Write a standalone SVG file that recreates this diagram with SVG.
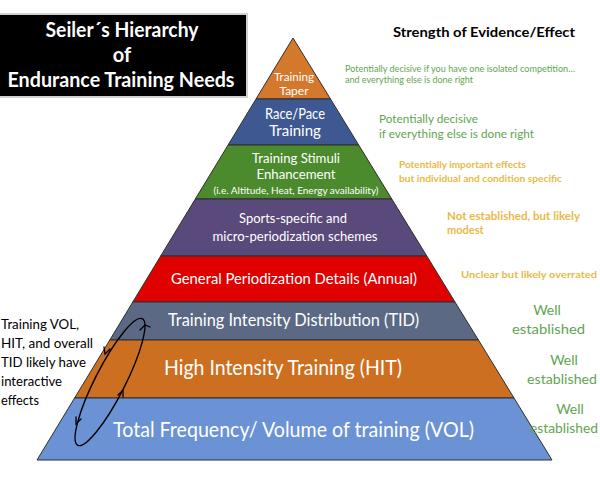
<svg xmlns="http://www.w3.org/2000/svg" width="600" height="480" viewBox="0 0 600 480">
<style>
.lay{stroke:#2e2e2e;stroke-width:1;stroke-linejoin:round}
.wt{fill:#ffffff;font-family:Lato,"Open Sans","Liberation Sans",sans-serif;text-anchor:middle}
.gr{fill:#62a552;font-family:Lato,"Open Sans","Liberation Sans",sans-serif}
.yl{fill:#e9b948;font-family:Lato,"Open Sans","Liberation Sans",sans-serif;font-weight:bold}
.bk{fill:#000000;font-family:Lato,"Open Sans","Liberation Sans",sans-serif}
.arr{fill:none;stroke:#000;stroke-width:1.3;stroke-linecap:round}
</style>
<rect x="0" y="0" width="600" height="480" fill="#ffffff"/>

<g id="title">
<rect x="-2" y="14" width="249" height="83" fill="#000" stroke="#d0d0d0" stroke-width="2"/>
<text class="wt" x="122" y="37" font-size="20" font-weight="bold" textLength="153" lengthAdjust="spacingAndGlyphs">Seiler´s Hierarchy</text>
<text class="wt" x="122" y="62" font-size="20" font-weight="bold">of</text>
<text class="wt" x="121" y="87" font-size="20" font-weight="bold" textLength="227" lengthAdjust="spacingAndGlyphs">Endurance Training Needs</text>
</g>

<g id="header">
<text class="bk" x="393" y="37" font-size="14" font-weight="bold" textLength="182" lengthAdjust="spacingAndGlyphs">Strength of Evidence/Effect</text>
</g>

<g id="taper">
<polygon class="lay" points="293,38 330.5,99 256,99" fill="#d4782c"/>
<text class="wt" x="294" y="81" font-size="12" textLength="40" lengthAdjust="spacingAndGlyphs">Training</text>
<text class="wt" x="294" y="95" font-size="12">Taper</text>
</g>

<g id="race">
<polygon class="lay" points="256,99 330.5,99 358.7,145 228.1,145" fill="#3e5992"/>
<text class="wt" x="295" y="119" font-size="15" textLength="60" lengthAdjust="spacingAndGlyphs">Race/Pace</text>
<text class="wt" x="295" y="136" font-size="15">Training</text>
</g>

<g id="stimuli">
<polygon class="lay" points="228.1,145 358.7,145 391.8,199 195.3,199" fill="#4b8a2d"/>
<text class="wt" x="296" y="163" font-size="14" textLength="88" lengthAdjust="spacingAndGlyphs">Training Stimuli</text>
<text class="wt" x="296" y="179" font-size="14" textLength="79" lengthAdjust="spacingAndGlyphs">Enhancement</text>
<text class="wt" x="296" y="194" font-size="10" textLength="165" lengthAdjust="spacingAndGlyphs">(i.e. Altitude, Heat, Energy availability)</text>
</g>

<g id="sports">
<polygon class="lay" points="195.3,199 391.8,199 426.8,256 160.7,256" fill="#5a4a7b"/>
<text class="wt" x="293" y="223" font-size="14" textLength="108" lengthAdjust="spacingAndGlyphs">Sports-specific and</text>
<text class="wt" x="295" y="241" font-size="14" textLength="165" lengthAdjust="spacingAndGlyphs">micro-periodization schemes</text>
</g>

<g id="general">
<polygon class="lay" points="160.7,256 426.8,256 455,302 132.8,302" fill="#df0000"/>
<text class="wt" x="294" y="284" font-size="16" textLength="246" lengthAdjust="spacingAndGlyphs">General Periodization Details (Annual)</text>
</g>

<g id="tid">
<polygon class="lay" points="132.8,302 455,302 478.4,340 109.8,340" fill="#5b6985"/>
<text class="wt" x="293.5" y="326" font-size="17" textLength="251" lengthAdjust="spacingAndGlyphs">Training Intensity Distribution (TID)</text>
</g>

<g id="hit">
<polygon class="lay" points="109.8,340 478.4,340 514,398 74.6,398" fill="#cd6f20"/>
<text class="wt" x="283" y="375" font-size="21" textLength="238" lengthAdjust="spacingAndGlyphs">High Intensity Training (HIT)</text>
</g>

<g id="vol">
<polygon class="lay" points="74.6,398 514,398 552,460 37,460" fill="#6a92d4"/>
<text class="wt" x="293.5" y="437" font-size="21" textLength="361" lengthAdjust="spacingAndGlyphs">Total Frequency/ Volume of training (VOL)</text>
</g>

<g id="evidence">
<text class="gr" x="345" y="72" font-size="9" textLength="230" lengthAdjust="spacingAndGlyphs">Potentially decisive if you have one isolated competition…</text>
<text class="gr" x="345" y="83" font-size="9" textLength="128" lengthAdjust="spacingAndGlyphs">and everything else is done right</text>
<text class="gr" x="379" y="123" font-size="12" textLength="99" lengthAdjust="spacingAndGlyphs">Potentially decisive</text>
<text class="gr" x="379" y="138" font-size="12" textLength="155" lengthAdjust="spacingAndGlyphs"> if everything else is done right</text>
<text class="yl" x="399" y="168" font-size="9" textLength="127" lengthAdjust="spacingAndGlyphs">Potentially important effects</text>
<text class="yl" x="399" y="182" font-size="9" textLength="163" lengthAdjust="spacingAndGlyphs"> but individual and condition specific</text>
<text class="yl" x="447" y="220" font-size="11" textLength="133" lengthAdjust="spacingAndGlyphs">Not established, but likely</text>
<text class="yl" x="447" y="234" font-size="11">modest</text>
<text class="yl" x="461" y="278" font-size="10" textLength="136" lengthAdjust="spacingAndGlyphs">Unclear but likely overrated</text>
<text class="gr" x="547" y="315" font-size="14" text-anchor="middle">Well</text>
<text class="gr" x="512" y="334" font-size="14" textLength="73" lengthAdjust="spacingAndGlyphs">established</text>
<text class="gr" x="564" y="365" font-size="14" text-anchor="middle">Well</text>
<text class="gr" x="527" y="384" font-size="14" textLength="70" lengthAdjust="spacingAndGlyphs">established</text>
<text class="gr" x="570" y="414" font-size="14" text-anchor="middle">Well</text>
<text class="gr" x="530" y="433" font-size="14" textLength="68" lengthAdjust="spacingAndGlyphs">established</text>
</g>

<g id="note">
<text class="bk" x="1" y="329" font-size="14" textLength="78" lengthAdjust="spacingAndGlyphs">Training VOL,</text>
<text class="bk" x="1" y="348" font-size="14" textLength="92" lengthAdjust="spacingAndGlyphs">HIT, and overall</text>
<text class="bk" x="1" y="367" font-size="14" textLength="85" lengthAdjust="spacingAndGlyphs">TID likely have</text>
<text class="bk" x="1" y="386" font-size="14" textLength="61" lengthAdjust="spacingAndGlyphs">interactive</text>
<text class="bk" x="1" y="405" font-size="14" textLength="38" lengthAdjust="spacingAndGlyphs">effects</text>
</g>

<g id="connectors">
<ellipse cx="110" cy="382" rx="71" ry="15" transform="rotate(-63 110 382)" fill="none" stroke="#000" stroke-width="1.4"/>
<path class="arr" d="M140,330 L145,325 L150,327"/>
<path class="arr" d="M118,395 L123,390 L123,397"/>
<path class="arr" d="M110,349 L105,354 L104,347"/>
<path class="arr" d="M81,419 L76,424 L76,417"/>
</g>
</svg>
